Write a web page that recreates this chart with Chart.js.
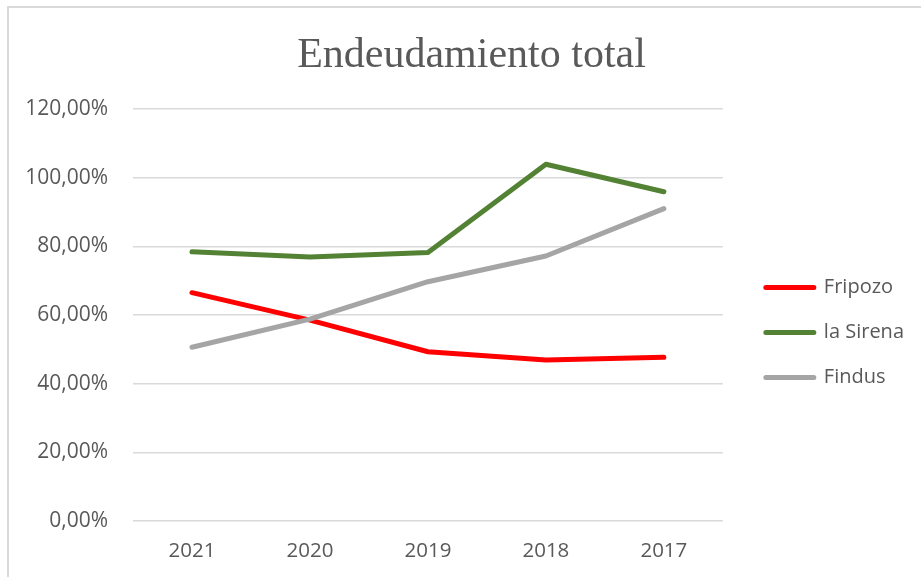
<!DOCTYPE html>
<html>
<head>
<meta charset="utf-8">
<script src="https://cdn.jsdelivr.net/npm/chart.js@4"></script>
<style>
  html, body { margin: 0; padding: 0; background: #ffffff; }
  #wrap { position: relative; width: 921px; height: 577px; overflow: hidden; }
  #frame { position: absolute; left: 7px; top: 6px; width: 1000px; height: 1000px;
           border-left: 2px solid #d9d9d9; border-top: 2px solid #d9d9d9; box-sizing: border-box; }
  #c { position: absolute; left: 0; top: 0; }
</style>
</head>
<body>
<div id="wrap">
  <div id="frame"></div>
  <canvas id="c" width="921" height="577"></canvas>
</div>
<script>
const categories = ["2021", "2020", "2019", "2018", "2017"];
const fripozo = [0.665, 0.585, 0.493, 0.469, 0.477];
const laSirena = [0.784, 0.769, 0.782, 1.039, 0.959];
const findus = [0.506, 0.588, 0.697, 0.772, 0.910];
const seriesNames = ["Fripozo", "la Sirena", "Findus"];
const seriesColors = ["#ff0000", "#548235", "#a5a5a5"];
const yTicks = { min: 0, max: 1.2, step: 0.2 };
const chartTitle = "Endeudamiento total";

const textColor = "#595959";
const gridColor = "#d9d9d9";

const nudge = {
  id: 'nudge',
  afterLayout(chart) {
    const lg = chart.legend;
    if (lg) { lg.left += 18; lg.right += 18; lg.top += 51; lg.bottom += 51; }
    const tb = chart.titleBlock;
    if (tb) { tb.left += 23.5; tb.right += 23.5; }
  }
};

const mk = (i, data, order) => ({
  label: seriesNames[i],
  data: data,
  borderColor: seriesColors[i],
  backgroundColor: seriesColors[i],
  borderWidth: 5,
  borderCapStyle: 'round',
  borderJoinStyle: 'round',
  pointRadius: 0,
  pointHoverRadius: 0,
  tension: 0,
  fill: false,
  order: order
});

new Chart(document.getElementById('c'), {
  type: 'line',
  data: {
    labels: categories,
    datasets: [mk(0, fripozo, 3), mk(1, laSirena, 2), mk(2, findus, 1)]
  },
  options: {
    responsive: false,
    animation: false,
    devicePixelRatio: 1,
    layout: { padding: { left: 0, right: 25, top: 0, bottom: 14 } },
    plugins: {
      tooltip: { enabled: false },
      title: {
        display: true,
        text: chartTitle,
        color: textColor,
        font: { family: "'Liberation Serif'", size: 42, weight: 'normal' },
        padding: { top: 31, bottom: 27.6 }
      },
      legend: {
        display: true,
        position: 'right',
        align: 'center',
        labels: {
          color: textColor,
          font: { family: "'Open Sans'", size: 20 },
          boxWidth: 48,
          boxHeight: 0,
          padding: 25,
          sort: (a, b) => a.datasetIndex - b.datasetIndex
        }
      }
    },
    scales: {
      x: {
        offset: true,
        afterFit: (s) => { s.height = 42; },
        grid: { display: false, drawTicks: false },
        border: { display: false },
        ticks: { color: textColor, font: { family: "'Open Sans'", size: 20.5 }, padding: 18, maxRotation: 0 }
      },
      y: {
        min: yTicks.min,
        max: yTicks.max,
        afterFit: (s) => { s.width = 133; },
        grid: { color: gridColor, lineWidth: 1.5, drawTicks: false },
        border: { display: false },
        ticks: {
          stepSize: yTicks.step,
          color: textColor,
          font: { family: "'Open Sans'", size: 21 },
          padding: 25,
          callback: (v) => (v * 100).toFixed(2).replace('.', ',') + '%'
        }
      }
    }
  },
  plugins: [nudge]
});
</script>
</body>
</html>
